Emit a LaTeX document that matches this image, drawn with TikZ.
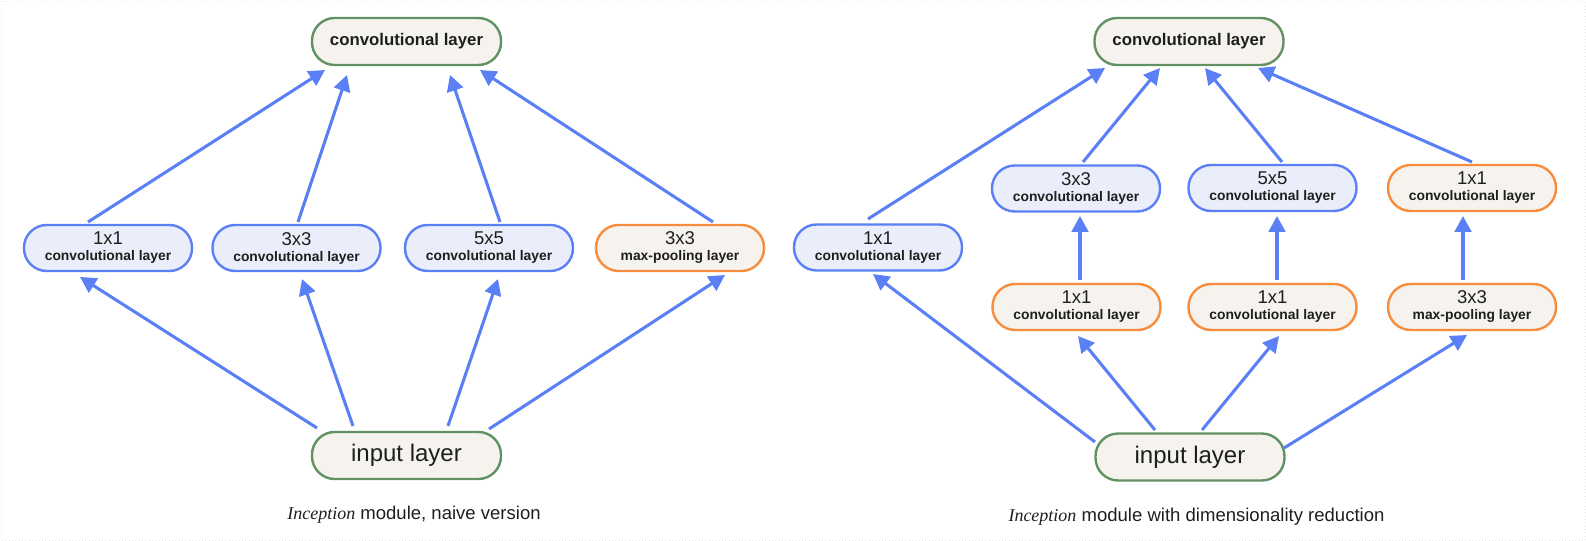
\documentclass[tikz,border=0pt]{standalone}
\usepackage{fontspec}
\setmainfont{Liberation Sans}
\newfontfamily\capserif{Liberation Serif}
\usetikzlibrary{arrows.meta,calc}
\definecolor{arrblue}{RGB}{91,128,246}
\definecolor{bordgreen}{RGB}{98,146,99}
\definecolor{bordorange}{RGB}{247,140,60}
\definecolor{creamfill}{RGB}{246,243,238}
\definecolor{bluefill}{RGB}{234,238,251}
\definecolor{txtdark}{RGB}{28,32,28}
\begin{document}
\begin{tikzpicture}[x=0.75pt,y=-0.75pt,
  box/.style={rectangle,rounded corners=17pt,line width=1.8pt,inner sep=0pt,align=center,text=txtdark},
  bigbox/.style={box,draw=bordgreen,fill=creamfill,minimum width=141.75pt,minimum height=35.25pt},
  bluebox/.style={box,draw=arrblue,fill=bluefill,minimum width=126pt,minimum height=34.5pt},
  orangebox/.style={box,draw=bordorange,fill=creamfill,minimum width=126pt,minimum height=34.5pt},
  arr/.style={draw=arrblue,line width=2.3pt,-{Triangle[length=12pt,width=12.5pt]}},
  toptxt/.style={font=\fontsize{12.6}{14}\selectfont\bfseries},
  intxt/.style={font=\fontsize{18}{20}\selectfont},
  captxt/.style={font=\fontsize{13.9}{16}\selectfont,text=txtdark}
]
\useasboundingbox (0,0) rectangle (1586,541);
\draw[black!8,line width=0.5pt,dotted] (1,1) rectangle (1585,540);
\newcommand{\twolines}[2]{\fontsize{13.9}{12.3}\selectfont #1\\\fontsize{10.4}{12.3}\selectfont\bfseries #2}

% ---------- left: naive version ----------
\node[bigbox,toptxt] (Ltop) at (406.5,41.5) {convolutional layer};
\node[bluebox] (L1) at (108,248) {\twolines{1x1}{convolutional layer}};
\node[bluebox] (L3) at (296.5,248) {\twolines{3x3}{convolutional layer}};
\node[bluebox] (L5) at (489,248) {\twolines{5x5}{convolutional layer}};
\node[orangebox] (Lmp) at (680,248) {\twolines{3x3}{max-pooling layer}};
\node[bigbox,intxt] (Lin) at (406.5,455.5) {input layer};
\node[captxt] (Lcap) at (414,515) {{\capserif\itshape\fontsize{13.5}{16}\selectfont Inception} module, naive version};

\draw[arr] ($(L1)+(-20,-26)$) -- ($(Ltop)+(-81.5,28.5)$);
\draw[arr] ($(L3)+(1.5,-26)$) -- ($(Ltop)+(-59.5,33.5)$);
\draw[arr] ($(L5)+(11,-26)$) -- ($(Ltop)+(43.5,33.5)$);
\draw[arr] ($(Lmp)+(33,-26)$) -- ($(Ltop)+(73.5,28.5)$);

\draw[arr] ($(Lin)+(-89.5,-27.5)$) -- ($(L1)+(-28,29)$);
\draw[arr] ($(Lin)+(-53.5,-29.5)$) -- ($(L3)+(5.5,31)$);
\draw[arr] ($(Lin)+(41.5,-29.5)$) -- ($(L5)+(9,31)$);
\draw[arr] ($(Lin)+(82.5,-26.5)$) -- ($(Lmp)+(45,27)$);

% ---------- right: dimensionality reduction ----------
\node[bigbox,toptxt] (Rtop) at (1189,41.5) {convolutional layer};
\node[bluebox] (R1) at (878,247.5) {\twolines{1x1}{convolutional layer}};
\node[bluebox] (R3) at (1076,188.5) {\twolines{3x3}{convolutional layer}};
\node[bluebox] (R5) at (1272.5,188) {\twolines{5x5}{convolutional layer}};
\node[orangebox] (Rp1) at (1472,188) {\twolines{1x1}{convolutional layer}};
\node[orangebox] (Ra) at (1076.5,307) {\twolines{1x1}{convolutional layer}};
\node[orangebox] (Rb) at (1272.5,307) {\twolines{1x1}{convolutional layer}};
\node[orangebox] (Rmp) at (1472,307) {\twolines{3x3}{max-pooling layer}};
\node[bigbox,intxt] (Rin) at (1190,457) {input layer};
\node[captxt] (Rcap) at (1196.5,517) {{\capserif\itshape\fontsize{13.5}{16}\selectfont Inception} module with dimensionality reduction};

\draw[arr] ($(R1)+(-10,-28.5)$) -- ($(Rtop)+(-84,26.5)$);
\draw[arr] ($(R3)+(7,-26.5)$) -- ($(Rtop)+(-29,26.5)$);
\draw[arr] ($(R5)+(9.5,-26)$) -- ($(Rtop)+(16,26.5)$);
\draw[arr] ($(Rp1)+(0,-26)$) -- ($(Rtop)+(69,26.5)$);

\draw[arr] ($(Ra)+(3.5,-27)$) -- ($(R3)+(4,27.5)$);
\draw[arr] ($(Rb)+(4.5,-27)$) -- ($(R5)+(4.5,28)$);
\draw[arr] ($(Rmp)+(-9,-27)$) -- ($(Rp1)+(-9,28)$);

\draw[arr] ($(Rin)+(-95,-15)$) -- ($(R1)+(-5,26.5)$);
\draw[arr] ($(Rin)+(-35,-27)$) -- ($(Ra)+(1.5,29)$);
\draw[arr] ($(Rin)+(12,-27)$) -- ($(Rb)+(6.5,29)$);
\draw[arr] ($(Rin)+(94,-9)$) -- ($(Rmp)+(-5,28)$);
\end{tikzpicture}
\end{document}
